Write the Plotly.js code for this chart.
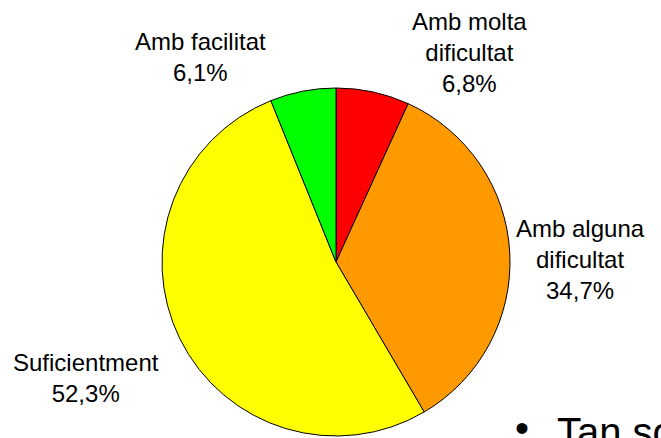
<!DOCTYPE html>
<html><head><meta charset="utf-8">
<script src="https://cdn.plot.ly/plotly-3.0.1.min.js"></script>
<style>html,body{margin:0;padding:0;background:#fff}#c{width:661px;height:438px}</style>
</head><body><div id="c"></div>
<script>
const categories = ["Amb molta dificultat", "Amb alguna dificultat", "Suficientment", "Amb facilitat"];
const values = [6.8, 34.7, 52.3, 6.1];
const labelTexts = ["Amb molta<br>dificultat", "Amb alguna<br>dificultat", "Suficientment", "Amb facilitat"];
const colors = ["#FF0000", "#FF9900", "#FFFF00", "#00FF00"];
const labelPos = [[470, 53], [580, 259], [86, 378], [201, 57]];

const W = 661, H = 438;
const FONT = 'Liberation Sans, Arial, sans-serif';
const fmt = v => v.toFixed(1).replace('.', ',') + '%';
const annotations = categories.map((c, i) => ({
  text: labelTexts[i] + '<br>' + fmt(values[i]),
  x: labelPos[i][0] / W, y: 1 - labelPos[i][1] / H,
  xref: 'paper', yref: 'paper', showarrow: false,
  xanchor: 'center', yanchor: 'middle', align: 'center',
  font: {family: FONT, size: 24, color: '#000'}
}));
annotations.push({
  text: '•', x: 522 / W, y: 1 - 428 / H, xref: 'paper', yref: 'paper',
  showarrow: false, xanchor: 'center', yanchor: 'middle',
  font: {family: FONT, size: 40, color: '#000'}
});
annotations.push({
  text: 'Tan so', x: 555 / W, y: 1 - 456 / H, xref: 'paper', yref: 'paper',
  showarrow: false, xanchor: 'left', yanchor: 'bottom',
  font: {family: FONT, size: 40, color: '#000'}
});

Plotly.newPlot('c', [{
  type: 'pie', labels: categories, values: values, sort: false,
  direction: 'clockwise', rotation: 0, textinfo: 'none', hoverinfo: 'none',
  marker: {colors: colors, line: {color: '#000', width: 1}},
  domain: {x: [162 / W, 510 / W], y: [1 - 436 / H, 1 - 88 / H]}
}], {
  width: W, height: H, margin: {l: 0, r: 0, t: 0, b: 0},
  showlegend: false, paper_bgcolor: '#fff', annotations: annotations
}, {displayModeBar: false, staticPlot: true});
</script></body></html>
